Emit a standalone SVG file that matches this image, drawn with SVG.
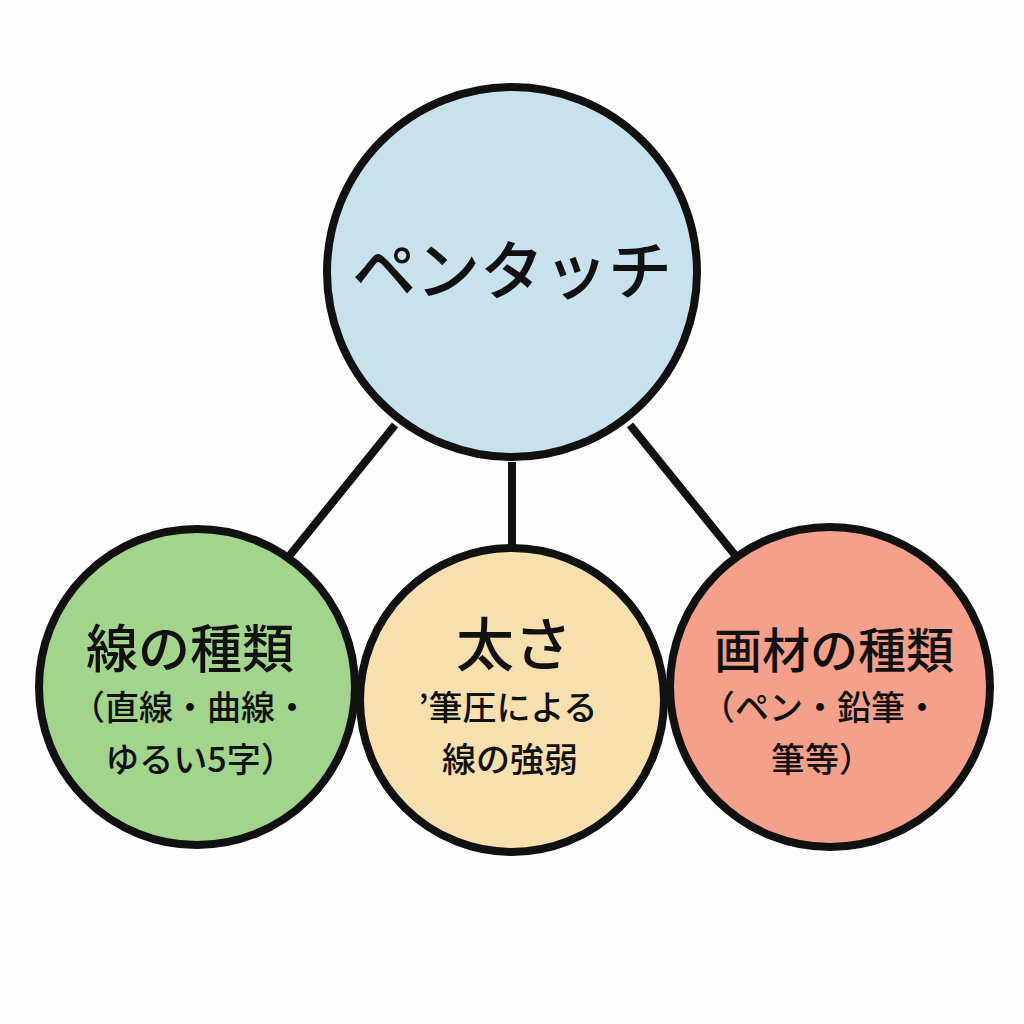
<svg xmlns="http://www.w3.org/2000/svg" width="1024" height="1024" viewBox="0 0 1024 1024">
<style>
.n{stroke:#111;stroke-width:8}
.t{font-family:"Noto Sans CJK JP","Noto Sans",sans-serif;fill:#111;text-anchor:middle;font-weight:500}
.c{stroke:#111;stroke-width:8;fill:none}
</style>
<rect width="1024" height="1024" fill="#fdfdfd"/>
<g id="connectors">
<line class="c" x1="395" y1="425" x2="290" y2="555"/>
<line class="c" x1="512" y1="462" x2="512" y2="550"/>
<line class="c" x1="630" y1="425" x2="735" y2="555"/>
</g>
<g id="top"><circle class="n" cx="512" cy="272" r="185" fill="#c8e2ed"/>
<text class="t" x="512" y="294" font-size="64">ペンタッチ</text></g>
<g id="left"><circle class="n" cx="197" cy="687" r="158" fill="#a3d48c"/>
<text class="t" x="190" y="668" font-size="52">線の種類</text>
<text class="t" x="190" y="720" font-size="34">（直線・曲線・</text>
<text class="t" x="200" y="772" font-size="34">ゆるい5字）</text></g>
<g id="middle"><circle class="n" cx="512" cy="700" r="152" fill="#f8e0ae"/>
<text class="t" x="514" y="666" font-size="58">太さ</text>
<text class="t" x="508" y="720" font-size="34">’筆圧による</text>
<text class="t" x="510" y="772" font-size="34">線の強弱</text></g>
<g id="right"><circle class="n" cx="830" cy="687" r="160" fill="#f4a08a"/>
<text class="t" x="834" y="668" font-size="48">画材の種類</text>
<text class="t" x="820" y="720" font-size="34">（ペン・鉛筆・</text>
<text class="t" x="822" y="772" font-size="34">筆等）</text></g>
</svg>
